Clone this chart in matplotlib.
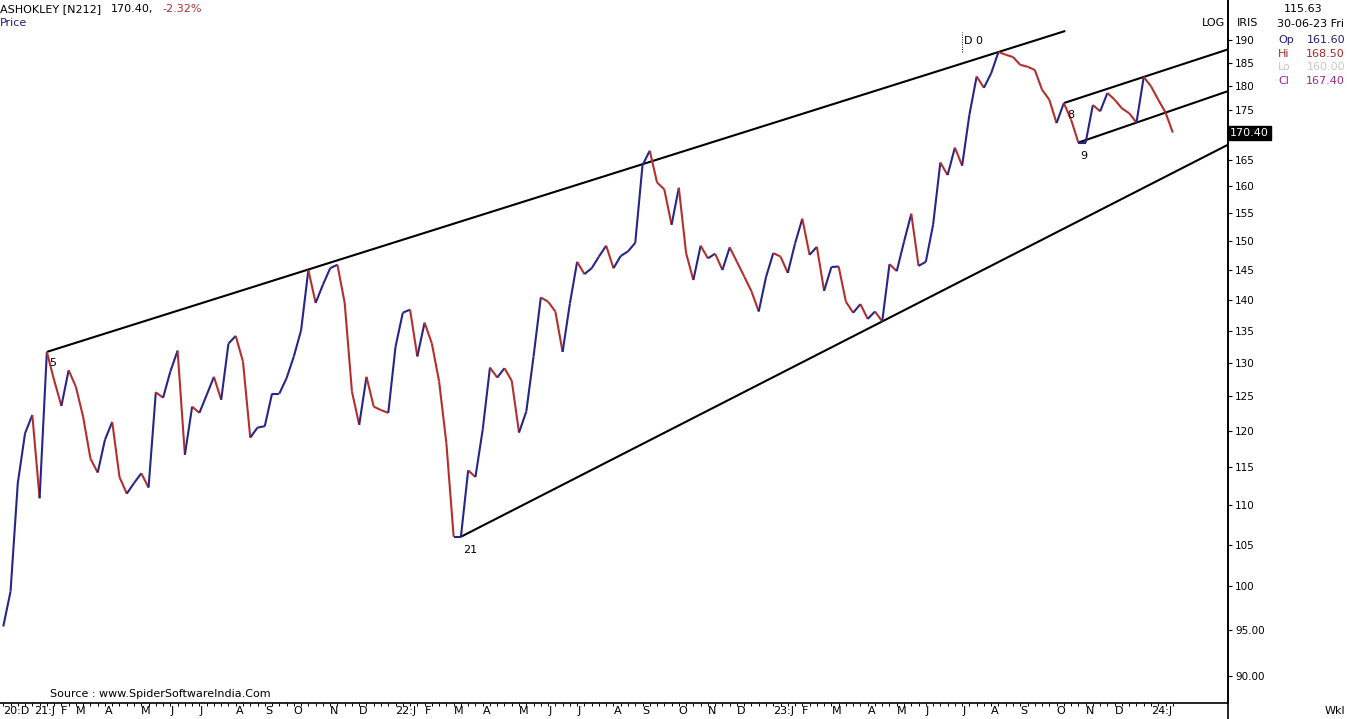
import numpy as np
import pandas as pd
import matplotlib
matplotlib.use("Agg")
import matplotlib.pyplot as plt
from matplotlib.collections import LineCollection
from matplotlib.ticker import FixedLocator, NullLocator, NullFormatter

W, H = 1347, 719
UP = "#25258a"
DOWN = "#b52e2e"

# weekly closes (Fridays), ASHOKLEY
start_date = "2020-12-25"
closes = [
    95.4, 99.4, 112.9, 119.7, 122.3, 110.9, 131.7, 127.4, 123.6, 128.9,
    126.4, 122.0, 116.2, 114.3, 118.8, 121.3, 113.7, 111.5, 112.9, 114.2,
    112.3, 125.6, 124.8, 128.7, 131.9, 116.7, 123.5, 122.6, 125.2, 127.9,
    124.5, 133.0, 134.2, 130.2, 119.1, 120.5, 120.7, 125.4, 125.4, 127.7,
    131.0, 135.1, 145.0, 139.5, 142.5, 145.3, 145.9, 139.5, 125.7, 120.9,
    127.9, 123.5, 123.0, 122.6, 132.5, 137.9, 138.4, 131.0, 136.3, 133.0,
    127.2, 118.3, 106.0, 106.0, 114.6, 113.7, 120.2, 129.3, 127.8, 129.2,
    127.3, 119.8, 122.8, 131.0, 140.4, 139.7, 138.1, 131.7, 139.4, 146.4,
    144.3, 145.3, 147.3, 149.2, 145.3, 147.4, 148.2, 149.7, 164.0, 166.8,
    160.7, 159.4, 152.9, 159.7, 147.9, 143.3, 149.2, 147.0, 147.8, 145.0,
    148.9, 146.4, 143.9, 141.4, 138.1, 143.8, 147.9, 147.3, 144.5, 149.6,
    154.0, 147.6, 149.0, 141.5, 145.5, 145.6, 139.7, 137.9, 139.3, 136.9,
    138.1, 136.5, 146.0, 144.8, 149.9, 154.9, 145.7, 146.4, 152.9, 164.5,
    162.1, 167.4, 163.9, 174.0, 182.0, 179.6, 182.7, 187.3, 186.7, 186.2,
    184.5, 184.1, 183.4, 179.2, 177.1, 172.3, 176.4, 173.0, 168.4, 168.4,
    176.0, 174.7, 178.5, 177.1, 175.3, 174.3, 172.4, 181.9, 179.9, 177.1,
    174.45, 170.4,
]

# trendlines: two pivot weeks each, extended to end week (None = right edge)
trendlines = [
    (6, 137, 146.2),    # upper resistance
    (63, 121, None),    # rising support
    (146, 157, None),   # channel top
    (148, 156, None),   # channel bottom
]
# wave labels: (week, text, dx px, dy px)
wave_labels = [(6, "5", 6, -11), (63, "21", 9, -13), (146, "8", 7, -12), (148, "9", 5, -13)]
d0_week = 137

y_ticks = [90, 95, 100, 105, 110, 115, 120, 125, 130, 135, 140, 145,
           150, 155, 160, 165, 170, 175, 180, 185, 190]

info_date = "30-06-23 Fri"
info_rows = [("Op", "161.60", "#1f1f7a"), ("Hi", "168.50", "#a62626"),
             ("Lo", "160.00", "#c8c8c8"), ("Cl", "167.40", "#a0288c")]

dates = pd.date_range(start_date, periods=len(closes), freq="7D")
x = np.arange(len(closes))
y = np.array(closes)

fig = plt.figure(figsize=(W / 100, H / 100), dpi=100)
ax = fig.add_axes([0, 16 / H, 1228 / W, 703 / H])
ax.set_yscale("log")
xmin, xmax = -0.45, 168.6
ax.set_xlim(xmin, xmax)
ax.set_ylim(87.2, 199.1)

pts = np.column_stack([x, y])
segs = np.stack([pts[:-1], pts[1:]], axis=1)
cols = [UP if b >= a else DOWN for a, b in zip(y[:-1], y[1:])]
ax.add_collection(LineCollection(segs, colors=cols, linewidths=1.5, zorder=3))

for a, b, end in trendlines:
    if end is None:
        end = xmax
    slope = (np.log(y[b]) - np.log(y[a])) / (b - a)
    xs = np.array([a, end])
    ys = np.exp(np.log(y[a]) + slope * (xs - a))
    ax.plot(xs, ys, color="black", lw=1.5, zorder=2, solid_capstyle="butt")

for wk, txt, dx, dy in wave_labels:
    ax.annotate(txt, (wk, y[wk]), xytext=(dx, dy), textcoords="offset pixels",
                ha="center", va="center", fontsize=8, color="black")

ax.annotate("D 0", (d0_week, y[d0_week]), xytext=(-25, 11), textcoords="offset pixels",
            ha="center", va="center", fontsize=8, color="black")
ax.plot([d0_week - 5, d0_week - 5], [y[d0_week] * 1.0, y[d0_week] * 1.024],
        color="black", lw=0.7, ls=(0, (1, 1.5)))

# axes styling
for s in ("left", "top"):
    ax.spines[s].set_visible(False)
ax.spines["right"].set_linewidth(1.2)
ax.spines["bottom"].set_linewidth(1.2)
ax.yaxis.tick_right()
ax.yaxis.set_major_locator(FixedLocator(y_ticks))
ax.yaxis.set_minor_locator(NullLocator())
ax.yaxis.set_minor_formatter(NullFormatter())
# the last-price box sits over the 170 level, so that label stays empty
ax.set_yticklabels(["" if v == 170 else (f"{v:.2f}" if v < 100 else f"{v:.0f}") for v in y_ticks])
ax.tick_params(axis="y", direction="out", length=3, width=0.8, pad=2, labelsize=7.5)
ax.xaxis.set_major_locator(FixedLocator([]))
ax.xaxis.set_minor_locator(FixedLocator(x))
ax.tick_params(axis="x", which="minor", direction="out", length=2.5, width=0.7)

fig.add_artist(plt.Line2D([1228 / W, 1228 / W], [0, 1], color="black", lw=1.2))

# month labels, pushed right when they would overlap
month_idx = [0] + [i for i in range(1, len(dates)) if dates[i].month != dates[i - 1].month]
fig.canvas.draw()
renderer = fig.canvas.get_renderer()
prev_right = -1e9
for i in month_idx:
    d = dates[i]
    if i == 0 or d.month == 1:
        lab = f"{d:%y}:{d:%b}"[:4]
    else:
        lab = f"{d:%b}"[0]
    px = ax.transData.transform((i, y[0]))[0]
    if px < prev_right + 5:
        px = prev_right + 5
    t = fig.text(px / W, 1 - 711 / H, lab, ha="left", va="center", fontsize=8,
                 family=["Liberation Sans Narrow", "DejaVu Sans"])
    prev_right = t.get_window_extent(renderer).x1

# last price box
ax.annotate(f"{closes[-1]:.2f}", (1, closes[-1]), xycoords=("axes fraction", "data"),
            xytext=(2, 0), textcoords="offset pixels", ha="left", va="center",
            fontsize=8, color="white", annotation_clip=False,
            bbox=dict(boxstyle="square,pad=0.18", fc="black", ec="black"))

pct = (closes[-1] / closes[-2] - 1) * 100
fig.text(0, 1 - 9 / H, "ASHOKLEY [N212]", fontsize=8, va="center", ha="left")
fig.text(111 / W, 1 - 9 / H, f"{closes[-1]:.2f},", fontsize=8, va="center", ha="left")
fig.text(162 / W, 1 - 9 / H, f"{pct:.2f}%", fontsize=8, va="center", ha="left", color="#b03030")
fig.text(0, 1 - 23 / H, "Price", fontsize=8, va="center", ha="left", color="#1f1f7a")

fig.text(1225 / W, 1 - 23 / H, "LOG", fontsize=8, va="center", ha="right")
fig.text(1237 / W, 1 - 23 / H, "IRIS", fontsize=8, va="center", ha="left")
fig.text(1303 / W, 1 - 9 / H, "115.63", fontsize=8, va="center", ha="center")
fig.text(1277 / W, 1 - 24 / H, info_date, fontsize=8, va="center", ha="left")
for k, (nm, val, c) in enumerate(info_rows):
    yy = 1 - (40 + k * 13.7) / H
    fig.text(1278 / W, yy, nm, fontsize=8, va="center", ha="left", color=c)
    fig.text(1345 / W, yy, val, fontsize=8, va="center", ha="right", color=c)

fig.text(50 / W, 1 - 694 / H, "Source : www.SpiderSoftwareIndia.Com", fontsize=8,
         va="center", ha="left")
fig.text(1325 / W, 1 - 711 / H, "Wkl", fontsize=8, va="center", ha="left")

fig.savefig("out.png", dpi=100, facecolor="white")
